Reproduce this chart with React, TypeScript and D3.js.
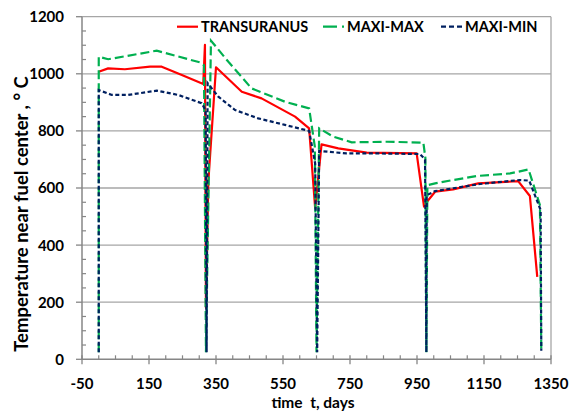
import React from "react";
import * as d3 from "d3";

const W = 569;
const H = 412;

// TRANSURANUS (red, solid)
const trDays = [0, 28, 78, 153, 188, 248, 312, 317, 320, 327, 350, 427, 486, 586, 628, 646, 665, 715, 800, 949, 971, 984, 1004, 1058, 1133, 1252, 1287, 1309];
const trTemp = [1007, 1019, 1016, 1025, 1025, 996, 964, 1101, 180, 620, 1023, 937, 914, 850, 809, 529, 753, 739, 724, 721, 535, 558, 587, 595, 616, 624, 572, 289];

// MAXI-MAX (green, long dash)
const mxDays = [0, 0, 28, 173, 302, 314, 320, 335, 387, 456, 556, 628, 645, 650, 658, 700, 755, 860, 969, 975, 978, 981, 1004, 1058, 1128, 1228, 1283, 1317, 1321];
const mxTemp = [25, 1060, 1051, 1081, 1040, 1030, 25, 1116, 1042, 949, 902, 879, 745, 25, 809, 780, 760, 762, 759, 705, 25, 610, 616, 628, 642, 651, 665, 540, 30];

// MAXI-MIN (navy, short dash)
const mnDays = [0, 0, 39, 88, 173, 237, 307, 319, 322, 325, 357, 407, 476, 556, 628, 646, 652, 658, 740, 840, 959, 974, 978, 979, 1004, 1058, 1138, 1257, 1285, 1319, 1321];
const mnTemp = [25, 943, 926, 926, 941, 926, 897, 873, 25, 967, 920, 873, 844, 821, 800, 686, 25, 730, 721, 721, 719, 700, 25, 575, 589, 599, 614, 628, 626, 523, 30];

const xTicks = [-50, 150, 350, 550, 750, 950, 1150, 1350];
const yTicks = [0, 200, 400, 600, 800, 1000, 1200];

const seriesNames = ["TRANSURANUS", "MAXI-MAX", "MAXI-MIN"];

const FONT = "Lato, 'Liberation Sans', sans-serif";

export default function App() {
  const left = 82, right = 551, top = 16.7, bottom = 359.3;
  const x = d3.scaleLinear().domain([-50, 1350]).range([left, right]);
  const y = d3.scaleLinear().domain([0, 1200]).range([bottom, top]);

  const line = d3.line<[number, number]>().x((d) => x(d[0])).y((d) => y(d[1]));
  const tr = line(trDays.map((d, i) => [d, trTemp[i]] as [number, number])) || "";
  const mx = line(mxDays.map((d, i) => [d, mxTemp[i]] as [number, number])) || "";
  const mn = line(mnDays.map((d, i) => [d, mnTemp[i]] as [number, number])) || "";

  const xMinor = d3.range(-50, 1351, 50).filter((v) => !xTicks.includes(v));
  const yMinor = d3.range(0, 1201, 50).filter((v) => !yTicks.includes(v));

  const axisColor = "#868686";
  const gridColor = "#a6a6a6";

  return (
    <svg width={W} height={H} style={{ position: "absolute", left: 0, top: 0, background: "#fff" }} fontFamily={FONT}>
      <rect x={0} y={0} width={W} height={H} fill="#fff" />
      {/* gridlines */}
      {yTicks.filter((v) => v > 0).map((v) => (
        <line key={"g" + v} x1={left} x2={right} y1={y(v)} y2={y(v)} stroke={gridColor} strokeWidth={1.3} />
      ))}
      {/* right frame */}
      <line x1={right} x2={right} y1={top} y2={bottom} stroke={gridColor} strokeWidth={1.3} />
      {/* axes */}
      <line x1={left} x2={left} y1={top} y2={bottom} stroke={axisColor} strokeWidth={1.5} />
      <line x1={left} x2={right} y1={bottom} y2={bottom} stroke={axisColor} strokeWidth={1.5} />
      {yTicks.map((v) => (
        <line key={"yt" + v} x1={left - 6} x2={left} y1={y(v)} y2={y(v)} stroke={axisColor} strokeWidth={1.3} />
      ))}
      {yMinor.map((v) => (
        <line key={"ym" + v} x1={left} x2={left + 4} y1={y(v)} y2={y(v)} stroke={axisColor} strokeWidth={1.2} />
      ))}
      {xTicks.map((v) => (
        <line key={"xt" + v} x1={x(v)} x2={x(v)} y1={bottom - 4} y2={bottom + 5} stroke={axisColor} strokeWidth={1.3} />
      ))}
      {xMinor.map((v) => (
        <line key={"xm" + v} x1={x(v)} x2={x(v)} y1={bottom - 4} y2={bottom} stroke={axisColor} strokeWidth={1.2} />
      ))}
      {/* tick labels */}
      {yTicks.map((v) => (
        <text key={"yl" + v} x={64} y={y(v)} dy="0.36em" textAnchor="end" fontSize={15} fontWeight={700} fill="#000">
          {v}
        </text>
      ))}
      {xTicks.map((v) => (
        <text key={"xl" + v} x={x(v)} y={389} textAnchor="middle" fontSize={15} fontWeight={700} fill="#000">
          {v}
        </text>
      ))}
      {/* axis titles */}
      <text x={313} y={408} textAnchor="middle" fontSize={15.5} fontWeight={700} fill="#000" style={{ whiteSpace: "pre" }}>
        {"time  t, days"}
      </text>
      <text transform={`translate(21,214) rotate(-90)`} textAnchor="middle" dy="0.36em" fontSize={18.5} fontWeight={700} fill="#000" style={{ whiteSpace: "pre" }}>
        {"Temperature near fuel center , ° C"}
      </text>
      {/* series */}
      <path d={tr} fill="none" stroke="#ff0000" strokeWidth={2.2} strokeLinejoin="round" />
      <path d={mx} fill="none" stroke="#00b050" strokeWidth={2.2} strokeDasharray="9,4" />
      <path d={mn} fill="none" stroke="#002060" strokeWidth={2.2} strokeDasharray="4,2.5" />
      {/* legend */}
      <line x1={177} x2={198} y1={26.7} y2={26.7} stroke="#ff0000" strokeWidth={2.2} />
      <text x={201} y={26.7} dy="0.36em" fontSize={14.5} fontWeight={700} fill="#000">{seriesNames[0]}</text>
      <line x1={323} x2={344} y1={26.7} y2={26.7} stroke="#00b050" strokeWidth={2.2} strokeDasharray="14,5" />
      <text x={347} y={26.7} dy="0.36em" fontSize={14.5} fontWeight={700} fill="#000">{seriesNames[1]}</text>
      <line x1={441} x2={462} y1={26.7} y2={26.7} stroke="#002060" strokeWidth={2.2} strokeDasharray="5,3" />
      <text x={465} y={26.7} dy="0.36em" fontSize={14.5} fontWeight={700} fill="#000">{seriesNames[2]}</text>
    </svg>
  );
}
